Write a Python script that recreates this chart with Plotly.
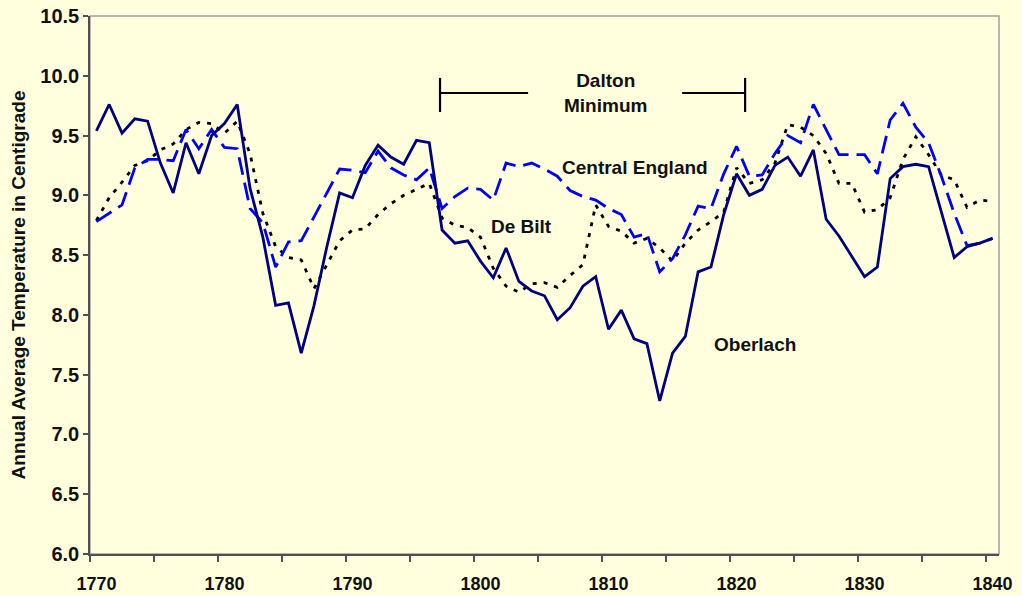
import plotly.graph_objects as go

years = list(range(1770, 1841))

oberlach = [9.54, 9.76, 9.52, 9.64, 9.62, 9.27, 9.02, 9.44, 9.18, 9.50,
            9.60, 9.76, 9.06, 8.65, 8.08, 8.10, 7.68, 8.08, 8.57, 9.02,
            8.98, 9.25, 9.42, 9.32, 9.26, 9.46, 9.44, 8.71, 8.60, 8.62,
            8.45, 8.31, 8.56, 8.28, 8.20, 8.16, 7.96, 8.06, 8.24, 8.32,
            7.88, 8.04, 7.80, 7.76, 7.28, 7.68, 7.82, 8.36, 8.40, 8.84,
            9.18, 9.00, 9.05, 9.25, 9.32, 9.16, 9.38, 8.80, 8.66, 8.49,
            8.32, 8.40, 9.14, 9.24, 9.26, 9.24, 8.85, 8.48, 8.57, 8.60,
            8.64]

central_england = [8.78, 8.85, 8.92, 9.23, 9.30, 9.30, 9.29, 9.55, 9.39, 9.55,
                   9.40, 9.39, 8.89, 8.77, 8.40, 8.61, 8.62, 8.82, 9.02, 9.22,
                   9.21, 9.19, 9.37, 9.23, 9.17, 9.13, 9.23, 8.89, 8.99, 9.06,
                   9.05, 8.96, 9.27, 9.24, 9.27, 9.22, 9.16, 9.04, 8.99, 8.96,
                   8.89, 8.84, 8.65, 8.68, 8.36, 8.47, 8.67, 8.91, 8.89, 9.18,
                   9.41, 9.16, 9.17, 9.35, 9.50, 9.44, 9.76, 9.55, 9.34, 9.34,
                   9.34, 9.18, 9.63, 9.77, 9.57, 9.44, 9.16, 8.85, 8.58, 8.60,
                   8.64]

de_bilt = [8.79, 8.98, 9.11, 9.25, 9.29, 9.38, 9.43, 9.55, 9.61, 9.60,
           9.52, 9.62, 9.35, 8.85, 8.57, 8.48, 8.46, 8.22, 8.42, 8.62,
           8.71, 8.72, 8.84, 8.93, 9.00, 9.05, 9.10, 8.81, 8.75, 8.73,
           8.65, 8.39, 8.24, 8.19, 8.26, 8.27, 8.23, 8.33, 8.42, 8.92,
           8.74, 8.70, 8.60, 8.64, 8.56, 8.45, 8.60, 8.71, 8.78, 8.86,
           9.23, 9.10, 9.13, 9.27, 9.59, 9.57, 9.50, 9.35, 9.10, 9.10,
           8.86, 8.88, 8.98, 9.30, 9.49, 9.34, 9.17, 9.13, 8.90, 8.96,
           8.95]

x_labels = [1770, 1780, 1790, 1800, 1810, 1820, 1830, 1840]
y_ticks = [6.0, 6.5, 7.0, 7.5, 8.0, 8.5, 9.0, 9.5, 10.0, 10.5]

BG = "#FFFFDD"
FONT = "Liberation Sans, Arial, sans-serif"
TXT = "#111111"

fig = go.Figure()
fig.add_trace(go.Scatter(x=years, y=de_bilt, mode="lines", name="De Bilt",
                         line=dict(color="#000000", width=2.8, dash="4px,7px")))
fig.add_trace(go.Scatter(x=years, y=central_england, mode="lines", name="Central England",
                         line=dict(color="#0000FF", width=2.8, dash="18px,8px")))
fig.add_trace(go.Scatter(x=years, y=oberlach, mode="lines", name="Oberlach",
                         line=dict(color="#000080", width=2.8)))

# Dalton Minimum bracket
bx0, bx1 = 1796.84, 1820.67
by, by0, by1 = 9.856, 9.697, 9.982
line_style = dict(color="#000000", width=2.2)
shapes = [
    dict(type="line", xref="x", yref="y", x0=bx0, x1=bx0, y0=by0, y1=by1, line=line_style),
    dict(type="line", xref="x", yref="y", x0=bx1, x1=bx1, y0=by0, y1=by1, line=line_style),
    dict(type="line", xref="x", yref="y", x0=bx0, x1=1803.72, y0=by, y1=by, line=line_style),
    dict(type="line", xref="x", yref="y", x0=1815.75, x1=bx1, y0=by, y1=by, line=line_style),
    dict(type="rect", xref="paper", yref="paper", x0=0, x1=1, y0=0, y1=1,
         line=dict(color="#A0A0A0", width=1.5), layer="below"),
]

tfont = dict(family=FONT, size=19, color=TXT, weight="bold")
annotations = [
    dict(x=1809.77, y=9.856, text="Dalton<br>Minimum", showarrow=False, font=tfont,
         xanchor="center", yanchor="middle"),
    dict(x=1812.08, y=9.229, text="Central England", showarrow=False, font=tfont,
         xanchor="center", yanchor="middle"),
    dict(x=1803.21, y=8.738, text="De Bilt", showarrow=False, font=tfont,
         xanchor="center", yanchor="middle"),
    dict(x=1821.45, y=7.749, text="Oberlach", showarrow=False, font=tfont,
         xanchor="center", yanchor="middle"),
]

fig.update_layout(
    width=1022, height=596,
    paper_bgcolor=BG, plot_bgcolor=BG,
    margin=dict(l=90, r=23, t=16, b=42),
    showlegend=False,
    shapes=shapes,
    annotations=annotations,
    xaxis=dict(
        range=[1769.5, 1840.5], automargin=False,
        tickmode="array", tickvals=x_labels, ticktext=[str(v) for v in x_labels],
        ticks="", showgrid=False, zeroline=False,
        showline=True, linecolor="#505050", linewidth=1.5,
        tickfont=dict(family=FONT, size=18, color=TXT, weight="bold"),
        ticklabelstandoff=13,
        minor=dict(tick0=1769.5, dtick=5, ticks="outside", ticklen=6,
                   tickcolor="#505050", tickwidth=1.5, showgrid=False),
    ),
    yaxis=dict(
        range=[6.0, 10.5], automargin=False,
        tickmode="array", tickvals=y_ticks, ticktext=[f"{v:.1f}" for v in y_ticks],
        ticks="outside", ticklen=5, tickcolor="#505050", tickwidth=1.5,
        showgrid=False, zeroline=False,
        showline=True, linecolor="#505050", linewidth=1.5,
        tickfont=dict(family=FONT, size=20, color=TXT, weight="bold"),
        title=dict(text="Annual Average Temperature in Centigrade",
                   font=dict(family=FONT, size=19, color=TXT, weight="bold"),
                   standoff=10),
    ),
)

fig.write_html(
    "out.html",
    config={"displayModeBar": False},
    post_script="document.body.style.margin='0';document.body.style.overflow='hidden';"
                "document.body.style.background='" + BG + "';",
)
